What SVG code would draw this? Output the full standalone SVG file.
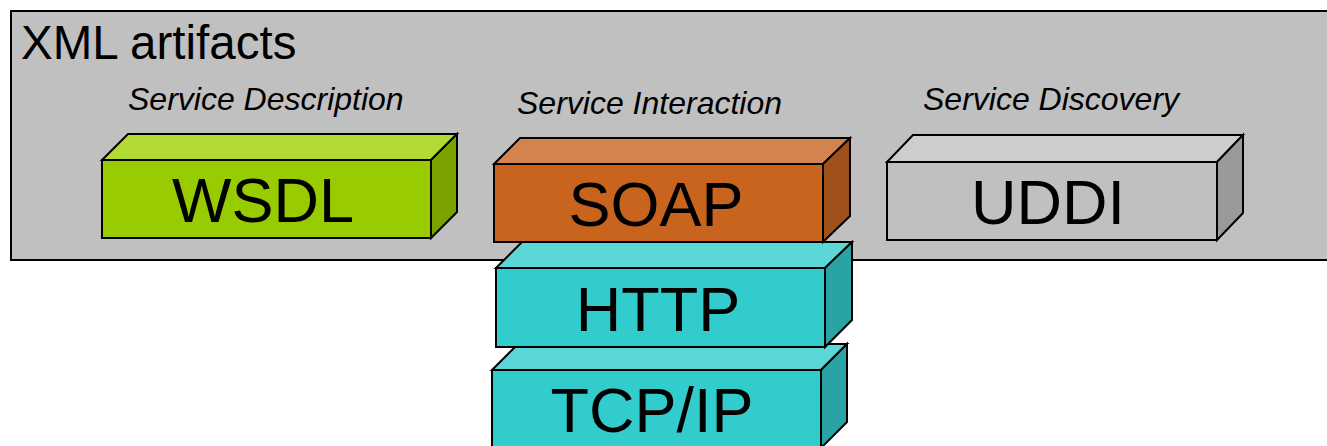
<svg xmlns="http://www.w3.org/2000/svg" width="1327" height="446" viewBox="0 0 1327 446">
  <style>
    .edge { stroke: #000; stroke-width: 2; stroke-linejoin: miter; }
    .big { font-family: "Liberation Sans", Arial, sans-serif; font-size: 63px; fill: #000; text-anchor: middle; }
    .cap { font-family: "Liberation Sans", Arial, sans-serif; font-size: 32px; font-style: italic; fill: #000; }
    .title { font-family: "Liberation Sans", Arial, sans-serif; font-size: 47.5px; fill: #000; }
    .green .front { fill: #99CC00; } .green .top { fill: #B1DA34; } .green .side { fill: #7AA300; }
    .rust .front { fill: #C8641E; } .rust .top { fill: #D4834F; } .rust .side { fill: #A0501B; }
    .teal .front { fill: #33CCCC; } .teal .top { fill: #5CD7D7; } .teal .side { fill: #29A3A3; }
    .grey .front { fill: #C0C0C0; } .grey .top { fill: #CDCDCD; } .grey .side { fill: #9A9A9A; }
  </style>

  <!-- container panel -->
  <g id="xml-artifacts">
    <rect x="11" y="11" width="1330" height="249" fill="#C0C0C0" class="edge"/>
    <text class="title" x="21" y="59">XML artifacts</text>
    <text class="cap" x="128" y="110">Service Description</text>
    <text class="cap" x="517" y="114">Service Interaction</text>
    <text class="cap" x="923" y="110">Service Discovery</text>
  </g>

  <!-- WSDL block -->
  <g id="wsdl" class="green" transform="translate(102,160)">
    <polygon class="top edge" points="0,0 26,-26 355,-26 329,0"/>
    <polygon class="side edge" points="329,0 355,-26 355,52 329,78"/>
    <rect class="front edge" x="0" y="0" width="329" height="78"/>
    <text class="big" x="161" y="62">WSDL</text>
  </g>

  <!-- UDDI block -->
  <g id="uddi" class="grey" transform="translate(887,162)">
    <polygon class="top edge" points="0,0 26,-27 356,-27 330,0"/>
    <polygon class="side edge" points="330,0 356,-27 356,51 330,78"/>
    <rect class="front edge" x="0" y="0" width="330" height="78"/>
    <text class="big" x="161" y="62">UDDI</text>
  </g>

  <!-- protocol stack, bottom layer first -->
  <g id="tcpip" class="teal" transform="translate(492,370)">
    <polygon class="top edge" points="0,0 26,-26 355,-26 329,0"/>
    <polygon class="side edge" points="329,0 355,-26 355,52 329,78"/>
    <rect class="front edge" x="0" y="0" width="329" height="100"/>
    <text class="big" x="160" y="62">TCP/IP</text>
  </g>

  <g id="http" class="teal" transform="translate(496,268)">
    <polygon class="top edge" points="0,0 26,-26 356,-26 329,0"/>
    <polygon class="side edge" points="329,0 356,-26 356,52 329,79"/>
    <rect class="front edge" x="0" y="0" width="329" height="79"/>
    <text class="big" x="162" y="63">HTTP</text>
  </g>

  <g id="soap" class="rust" transform="translate(494,164)">
    <polygon class="top edge" points="0,0 26,-26 356,-26 329,0"/>
    <polygon class="side edge" points="329,0 356,-26 356,52 329,78"/>
    <rect class="front edge" x="0" y="0" width="329" height="78"/>
    <text class="big" x="162" y="62">SOAP</text>
  </g>

  <!-- no connectors in this drawing -->
  <g id="connectors"/>
</svg>
